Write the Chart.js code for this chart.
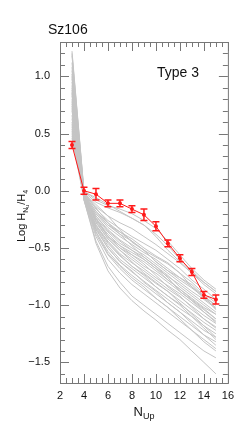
<!DOCTYPE html>
<html>
<head>
<meta charset="utf-8">
<script src="https://cdn.jsdelivr.net/npm/chart.js@4.4.1/dist/chart.umd.min.js"></script>
<style>
  html, body { margin: 0; padding: 0; background: #fff; }
  #wrap { width: 240px; height: 428px; position: relative; }
</style>
</head>
<body>
<div id="wrap"><canvas id="chart" width="240" height="428"></canvas></div>
<script>
// N_up levels (x axis)
var nUp = [3, 4, 5, 6, 7, 8, 9, 10, 11, 12, 13, 14, 15]

// observed Sz106 decrement (red) and its error
var obsLog = [0.40, 0.00, -0.03, -0.11, -0.11, -0.16, -0.21, -0.31, -0.46, -0.59, -0.71, -0.91, -0.95]
var obsErr = [0.03, 0.03, 0.05, 0.03, 0.03, 0.03, 0.05, 0.04, 0.03, 0.03, 0.03, 0.03, 0.04]

// model curves (gray)
var models = [
  [1.22, 0.00, -0.08, -0.13, -0.16, -0.20, -0.26, -0.33, -0.44, -0.56, -0.68, -0.78, -0.86],
  [1.18, -0.01, -0.10, -0.15, -0.19, -0.24, -0.30, -0.38, -0.48, -0.60, -0.70, -0.80, -0.88],
  [1.12, -0.02, -0.14, -0.22, -0.28, -0.33, -0.40, -0.47, -0.55, -0.63, -0.72, -0.82, -0.90],
  [1.08, -0.02, -0.16, -0.26, -0.33, -0.40, -0.46, -0.52, -0.60, -0.68, -0.78, -0.86, -0.95],
  [1.05, -0.03, -0.18, -0.30, -0.36, -0.42, -0.50, -0.57, -0.63, -0.72, -0.80, -0.90, -0.98],
  [1.02, -0.03, -0.20, -0.32, -0.40, -0.47, -0.54, -0.60, -0.68, -0.76, -0.84, -0.92, -1.00],
  [0.98, -0.04, -0.22, -0.34, -0.43, -0.50, -0.56, -0.64, -0.72, -0.80, -0.88, -0.95, -1.03],
  [0.95, -0.04, -0.24, -0.36, -0.46, -0.52, -0.60, -0.68, -0.75, -0.82, -0.90, -0.98, -1.06],
  [0.92, -0.05, -0.25, -0.38, -0.48, -0.56, -0.62, -0.70, -0.78, -0.86, -0.94, -1.02, -1.08],
  [0.90, -0.05, -0.26, -0.40, -0.50, -0.58, -0.66, -0.72, -0.80, -0.88, -0.96, -1.04, -1.12],
  [0.88, -0.05, -0.28, -0.42, -0.52, -0.60, -0.68, -0.76, -0.83, -0.90, -0.98, -1.06, -1.14],
  [0.85, -0.06, -0.30, -0.44, -0.55, -0.63, -0.70, -0.78, -0.86, -0.93, -1.01, -1.09, -1.16],
  [0.83, -0.06, -0.31, -0.46, -0.57, -0.66, -0.73, -0.81, -0.88, -0.96, -1.04, -1.12, -1.19],
  [0.80, -0.06, -0.32, -0.48, -0.60, -0.68, -0.76, -0.84, -0.92, -0.99, -1.07, -1.15, -1.22],
  [0.78, -0.07, -0.34, -0.50, -0.62, -0.71, -0.79, -0.87, -0.95, -1.03, -1.10, -1.18, -1.25],
  [0.76, -0.07, -0.36, -0.53, -0.65, -0.74, -0.82, -0.90, -0.98, -1.06, -1.14, -1.22, -1.28],
  [0.74, -0.07, -0.38, -0.56, -0.68, -0.78, -0.86, -0.94, -1.02, -1.10, -1.18, -1.26, -1.32],
  [0.72, -0.08, -0.40, -0.60, -0.72, -0.82, -0.90, -0.98, -1.06, -1.14, -1.22, -1.30, -1.38],
  [0.70, -0.08, -0.44, -0.66, -0.80, -0.92, -1.00, -1.08, -1.16, -1.24, -1.32, -1.40, -1.46],
  [0.66, -0.08, -0.46, -0.70, -0.85, -0.96, -1.05, -1.13, -1.22, -1.30, -1.40, -1.50, -1.60],
  [0.63, -0.02, -0.12, -0.22, -0.34, -0.45, -0.52, -0.58, -0.64, -0.72, -0.84, -0.94, -1.02],
  [0.60, -0.03, -0.15, -0.28, -0.38, -0.44, -0.52, -0.62, -0.70, -0.76, -0.82, -0.92, -1.04],
  [0.58, -0.04, -0.20, -0.30, -0.38, -0.48, -0.58, -0.66, -0.74, -0.84, -0.92, -1.00, -1.08],
  [0.56, -0.04, -0.22, -0.35, -0.44, -0.52, -0.58, -0.66, -0.76, -0.88, -0.96, -1.06, -1.15],
  [0.54, -0.05, -0.24, -0.40, -0.50, -0.56, -0.64, -0.74, -0.84, -0.92, -1.02, -1.12, -1.20],
  [0.52, -0.05, -0.27, -0.42, -0.52, -0.62, -0.72, -0.80, -0.88, -0.98, -1.08, -1.18, -1.28],
  [0.50, -0.06, -0.30, -0.45, -0.56, -0.66, -0.74, -0.84, -0.92, -1.00, -1.10, -1.20, -1.30],
  [0.48, -0.06, -0.33, -0.50, -0.62, -0.70, -0.80, -0.88, -0.98, -1.06, -1.16, -1.26, -1.35],
  [0.46, -0.07, -0.36, -0.55, -0.66, -0.76, -0.84, -0.94, -1.02, -1.12, -1.22, -1.32, -1.40],
  [1.20, -0.01, -0.06, -0.12, -0.18, -0.24, -0.30, -0.40, -0.52, -0.62, -0.72, -0.80, -0.88],
  [1.00, -0.03, -0.18, -0.28, -0.36, -0.44, -0.52, -0.62, -0.70, -0.78, -0.85, -0.93, -1.00],
  [0.86, -0.04, -0.24, -0.40, -0.48, -0.54, -0.60, -0.68, -0.78, -0.86, -0.95, -1.03, -1.12]
]

var xTicks = [2, 4, 6, 8, 10, 12, 14, 16]
var yTicks = [-1.5, -1.0, -0.5, 0.0, 0.5, 1.0]

var frameColor = '#777'
var fontFam = '"Liberation Sans", Arial, sans-serif'

var datasets = []
datasets.push({
    label: 'Sz106',
    data: nUp.map((n, i) => ({x: n, y: obsLog[i]})),
    borderColor: '#ff1a1a',
    backgroundColor: '#ff1a1a',
    borderWidth: 1,
    pointRadius: 2,
    pointBorderWidth: 0,
    order: 0
})
models.forEach(m => {
    datasets.push({
        data: nUp.map((n, i) => ({x: n, y: m[i]})),
        borderColor: '#c4c4c4',
        borderWidth: 1,
        pointRadius: 0,
        order: 1
    })
})

// error bars on the observed points
var errorBars = {
    id: 'errorBars',
    afterDatasetsDraw(chart) {
        var ctx = chart.ctx
        var xs = chart.scales.x, ys = chart.scales.y
        ctx.save()
        ctx.strokeStyle = '#ff1a1a'
        ctx.lineWidth = 1.5
        nUp.forEach((n, i) => {
            var px = xs.getPixelForValue(n)
            var top = ys.getPixelForValue(obsLog[i] + obsErr[i])
            var bot = ys.getPixelForValue(obsLog[i] - obsErr[i])
            ctx.beginPath()
            ctx.moveTo(px, top); ctx.lineTo(px, bot)
            ctx.moveTo(px - 3.5, top); ctx.lineTo(px + 3.5, top)
            ctx.moveTo(px - 3.5, bot); ctx.lineTo(px + 3.5, bot)
            ctx.stroke()
        })
        ctx.restore()
    }
}

function drawSub(ctx, parts, x, y, align) {
    // parts: [text, size, dy]
    var total = 0
    parts.forEach(p => { ctx.font = p[1] + 'px ' + fontFam; total += ctx.measureText(p[0]).width })
    var cx = align === 'center' ? x - total / 2 : x
    parts.forEach(p => {
        ctx.font = p[1] + 'px ' + fontFam
        ctx.fillText(p[0], cx, y + p[2])
        cx += ctx.measureText(p[0]).width
    })
}

// IDL-like frame with inward ticks on all sides, plus texts
var frame = {
    id: 'frame',
    afterDraw(chart) {
        var ctx = chart.ctx
        var a = chart.chartArea
        var xs = chart.scales.x, ys = chart.scales.y
        ctx.save()
        ctx.strokeStyle = frameColor
        ctx.lineWidth = 1
        ctx.strokeRect(a.left + 0.5, a.top + 0.5, a.right - a.left, a.bottom - a.top)
        ctx.beginPath()
        for (var v = 2; v <= 16.001; v += 0.5) {
            var px = Math.round(xs.getPixelForValue(v)) + 0.5
            var len = Math.abs(v % 2) < 0.01 ? 9 : 5
            ctx.moveTo(px, a.bottom); ctx.lineTo(px, a.bottom - len)
            ctx.moveTo(px, a.top); ctx.lineTo(px, a.top + len)
        }
        for (var k = -16; k <= 13; k++) {
            var val = k / 10
            var py = Math.round(ys.getPixelForValue(val)) + 0.5
            var big = k % 5 === 0 ? 9 : 5
            ctx.moveTo(a.left, py); ctx.lineTo(a.left + big, py)
            ctx.moveTo(a.right, py); ctx.lineTo(a.right - big, py)
        }
        ctx.stroke()

        ctx.fillStyle = '#111'
        ctx.textBaseline = 'alphabetic'
        ctx.textAlign = 'left'
        ctx.font = '14px ' + fontFam
        ctx.fillText('Sz106', 48, 34)
        ctx.fillText('Type 3', 157, 77)

        // x title N_Up
        drawSub(ctx, [['N', 13, 0], ['Up', 9, 3]], (a.left + a.right) / 2, 416, 'center')

        // y title Log H_Nu / H_4
        ctx.translate(25, 216)
        ctx.rotate(-Math.PI / 2)
        drawSub(ctx, [['Log H', 11, 0], ['N', 7, 3], ['u', 5, 4], ['/H', 11, 0], ['4', 7, 3]], 0, 0, 'center')
        ctx.restore()
    }
}

var fmt = v => {
    var s = Math.abs(v).toFixed(1)
    return v < 0 ? '\u2212' + s : s
}

new Chart(document.querySelector('#chart'), {
    type: 'line',
    data: { datasets: datasets },
    options: {
        responsive: false,
        animation: false,
        events: [],
        layout: { padding: { top: 42, right: 11, left: 0, bottom: 0 } },
        plugins: { legend: { display: false }, tooltip: { enabled: false } },
        scales: {
            x: {
                type: 'linear',
                min: 2,
                max: 16,
                grid: { display: false, drawTicks: false },
                border: { display: false },
                afterBuildTicks: s => { s.ticks = xTicks.map(v => ({value: v})) },
                afterFit: s => { s.height = 45 },
                ticks: {
                    color: '#111',
                    font: { size: 11, family: fontFam },
                    padding: 6,
                    maxRotation: 0,
                    callback: v => String(v)
                }
            },
            y: {
                type: 'linear',
                min: -1.68,
                max: 1.30,
                grid: { display: false, drawTicks: false },
                border: { display: false },
                afterBuildTicks: s => { s.ticks = yTicks.map(v => ({value: v})) },
                afterFit: s => { s.width = 60 },
                ticks: {
                    color: '#111',
                    font: { size: 11, family: fontFam },
                    padding: 10,
                    callback: v => fmt(v)
                }
            }
        }
    },
    plugins: [errorBars, frame]
})
</script>
</body>
</html>
